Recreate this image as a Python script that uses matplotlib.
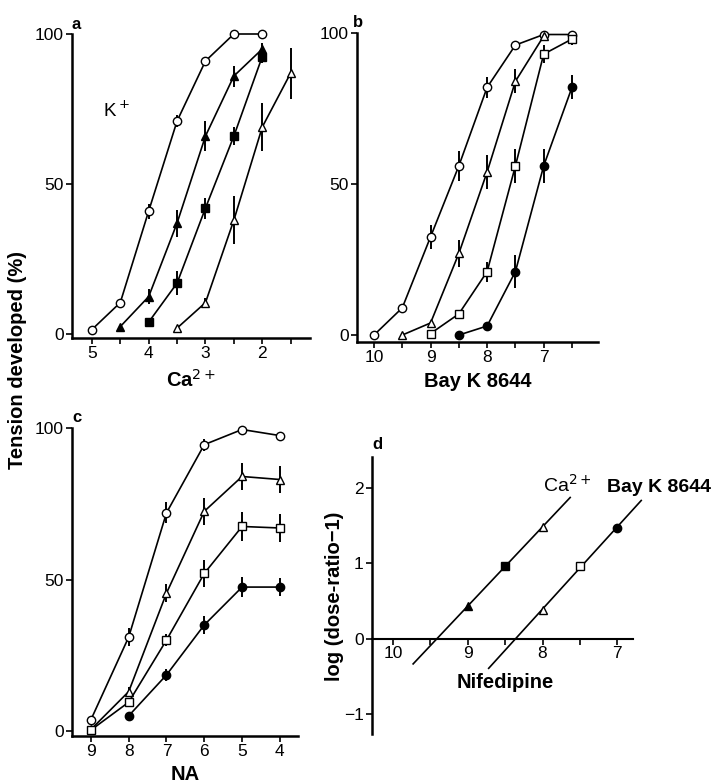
import matplotlib
matplotlib.use("Agg")
import matplotlib.pyplot as plt
import numpy as np

plt.rcParams['font.family'] = ['Liberation Sans', 'DejaVu Sans']

# ---------------- data ----------------
# panel a: -log[Ca2+] (K+ depolarised)
a_x_open_circle = [5, 4.5, 4, 3.5, 3, 2.5, 2]
a_open_circle = [1.5, 10.5, 41, 71, 91, 100, 100]
a_open_circle_err = [0, 0, 2.5, 2, 0, 0, 0]
a_x_filled_triangle = [4.5, 4, 3.5, 3, 2.5, 2]
a_filled_triangle = [2.5, 12.5, 37, 66, 86, 95]
a_filled_triangle_err = [0, 2.5, 4.5, 5, 3.5, 2]
a_x_filled_square = [4, 3.5, 3, 2.5, 2]
a_filled_square = [4, 17, 42, 66, 92.5]
a_filled_square_err = [0, 4, 3.5, 3, 2]
a_x_open_triangle = [3.5, 3, 2.5, 2, 1.5]
a_open_triangle = [2, 10.5, 38, 69, 87]
a_open_triangle_err = [0, 1.5, 8, 8, 8.5]

# panel b: -log[Bay K 8644]
b_x_open_circle = [10, 9.5, 9, 8.5, 8, 7.5, 7, 6.5]
b_open_circle = [0, 9, 32.5, 56, 82, 96, 99.5, 99.5]
b_open_circle_err = [0, 0, 4, 5, 3.5, 1.5, 0, 0]
b_x_open_triangle = [9.5, 9, 8.5, 8, 7.5, 7]
b_open_triangle = [0, 4, 27, 54, 84, 99]
b_open_triangle_err = [0, 0, 4.5, 5.5, 4, 0]
b_x_open_square = [9, 8.5, 8, 7.5, 7, 6.5]
b_open_square = [0.5, 7, 21, 56, 93, 98]
b_open_square_err = [0, 0, 3.3, 5.5, 3, 2]
b_x_filled_circle = [8.5, 8, 7.5, 7, 6.5]
b_filled_circle = [0, 3, 21, 56, 82]
b_filled_circle_err = [0, 0, 5.5, 5.5, 4]

# panel c: -log[NA]
c_x = [9, 8, 7, 6, 5, 4]
c_open_circle = [3.7, 31, 72, 94.5, 99.5, 97.5]
c_open_circle_err = [0, 3, 3.5, 2, 0, 0]
c_open_triangle = [0.5, 13, 45.5, 72.5, 84, 83]
c_open_triangle_err = [0, 1.5, 3, 4.5, 4.5, 4.5]
c_open_square = [0.3, 9.5, 30, 52, 67.5, 67]
c_open_square_err = [0, 1, 2, 4.5, 4.7, 4.7]
c_x_filled_circle = [8, 7, 6, 5, 4]
c_filled_circle = [5, 18.5, 35, 47.5, 47.5]
c_filled_circle_err = [0, 2, 3, 3.3, 3]

# panel d: Schild plots vs nifedipine
d_ca_x = [9, 8.5, 8]
d_ca_y = [0.43, 0.97, 1.48]
d_ca_line_x = [9.73, 7.63]
d_bay_x = [8, 7.5, 7]
d_bay_y = [0.38, 0.97, 1.47]
d_bay_line_x = [8.72, 6.68]

# ---------------- styling helpers ----------------
W, H = 715, 783
fig = plt.figure(figsize=(W / 100, H / 100), dpi=100)

def ax_px(l, r, top, bot):
    return fig.add_axes([l / W, 1 - bot / H, (r - l) / W, (bot - top) / H])

TICK_FS = 12.5
LABEL_FS = 14.5
LW = 1.2
MS = 6.0

def style_ax(ax):
    for s in ['top', 'right']:
        ax.spines[s].set_visible(False)
    ax.spines['left'].set_linewidth(1.8)
    ax.spines['bottom'].set_linewidth(1.8)
    ax.tick_params(axis='both', which='both', direction='out', length=4,
                   width=1.2, labelsize=TICK_FS, pad=2)

def xlabel_px(ax, text, baseline_px, bottom_px, height_px):
    yfrac = (bottom_px - baseline_px) / height_px
    ax.text(0.5, yfrac, text, transform=ax.transAxes, ha='center', va='baseline',
            fontsize=LABEL_FS, fontweight='bold', clip_on=False)

MK = {
    'open_circle': dict(marker='o', mfc='white', mec='black'),
    'filled_circle': dict(marker='o', mfc='black', mec='black'),
    'open_triangle': dict(marker='^', mfc='white', mec='black'),
    'filled_triangle': dict(marker='^', mfc='black', mec='black'),
    'open_square': dict(marker='s', mfc='white', mec='black'),
    'filled_square': dict(marker='s', mfc='black', mec='black'),
}

def series(ax, x, y, err, kind):
    x = np.asarray(x, float); y = np.asarray(y, float); e = np.asarray(err, float)
    m = e > 0
    ax.vlines(x[m], y[m] - e[m], y[m] + e[m], color='black', lw=1.4, zorder=2)
    ax.plot(x, y, color='black', lw=LW, ms=MS, mew=1.0, zorder=3,
            clip_on=False, **MK[kind])

# ---------------- panel a ----------------
axa = ax_px(72, 310, 34, 338)
style_ax(axa)
series(axa, a_x_open_circle, a_open_circle, a_open_circle_err, 'open_circle')
series(axa, a_x_filled_triangle, a_filled_triangle, a_filled_triangle_err, 'filled_triangle')
series(axa, a_x_filled_square, a_filled_square, a_filled_square_err, 'filled_square')
series(axa, a_x_open_triangle, a_open_triangle, a_open_triangle_err, 'open_triangle')
axa.set_xlim(5.35, 1.16)
axa.set_ylim(-1.3, 100)
axa.set_xticks([5, 4, 3, 2])
axa.set_xticks([4.5, 3.5, 2.5, 1.5], minor=True)
axa.set_yticks([0, 50, 100])
xlabel_px(axa, 'Ca$^{2+}$', 387, 338, 304)
axa.text(0.13, 0.727, 'K$^+$', transform=axa.transAxes, fontsize=13.5, va='baseline')
axa.text(0.0, 1.015, 'a', transform=axa.transAxes, fontsize=12, fontweight='bold')

# ---------------- panel b ----------------
axb = ax_px(357, 598, 33, 342)
style_ax(axb)
series(axb, b_x_open_circle, b_open_circle, b_open_circle_err, 'open_circle')
series(axb, b_x_open_triangle, b_open_triangle, b_open_triangle_err, 'open_triangle')
series(axb, b_x_open_square, b_open_square, b_open_square_err, 'open_square')
series(axb, b_x_filled_circle, b_filled_circle, b_filled_circle_err, 'filled_circle')
axb.set_xlim(10.3, 6.04)
axb.set_ylim(-2.3, 100)
axb.set_xticks([10, 9, 8, 7])
axb.set_xticks([9.5, 8.5, 7.5, 6.5], minor=True)
axb.set_yticks([0, 50, 100])
xlabel_px(axb, 'Bay K 8644', 387, 342, 309)
axb.text(-0.015, 1.02, 'b', transform=axb.transAxes, fontsize=12, fontweight='bold')

# ---------------- panel c ----------------
axc = ax_px(72, 298, 428, 736)
style_ax(axc)
series(axc, c_x, c_open_circle, c_open_circle_err, 'open_circle')
series(axc, c_x, c_open_triangle, c_open_triangle_err, 'open_triangle')
series(axc, c_x, c_open_square, c_open_square_err, 'open_square')
series(axc, c_x_filled_circle, c_filled_circle, c_filled_circle_err, 'filled_circle')
axc.set_xlim(9.5, 3.52)
axc.set_ylim(-1.65, 100)
axc.set_xticks([9, 8, 7, 6, 5, 4])
axc.set_yticks([0, 50, 100])
xlabel_px(axc, 'NA', 780, 736, 308)
axc.text(0.0, 1.02, 'c', transform=axc.transAxes, fontsize=12, fontweight='bold')

# ---------------- panel d ----------------
axd = ax_px(372, 633, 457, 734)
style_ax(axd)
axd.spines['bottom'].set_position(('data', 0))
axd.spines['bottom'].set_linewidth(1.5)
axd.set_xlim(10.28, 6.79)
axd.set_ylim(-1.26, 2.41)
axd.set_xticks([10, 9, 8, 7])
axd.set_xticks([9.5, 8.5, 7.5], minor=True)
axd.set_yticks([-1, 0, 1, 2])
axd.set_yticklabels(['\u22121', '0', '1', '2'])
axd.tick_params(axis='x', pad=1)

for xs, ys, lx in [(d_ca_x, d_ca_y, d_ca_line_x), (d_bay_x, d_bay_y, d_bay_line_x)]:
    k, b0 = np.polyfit(xs, ys, 1)
    lx = np.asarray(lx)
    axd.plot(lx, k * lx + b0, color='black', lw=LW, zorder=2, clip_on=False)
for xx, yy, kind in zip(d_ca_x, d_ca_y, ['filled_triangle', 'filled_square', 'open_triangle']):
    axd.plot([xx], [yy], ls='none', ms=MS, mew=1.0, zorder=3, **MK[kind])
for xx, yy, kind in zip(d_bay_x, d_bay_y, ['open_triangle', 'open_square', 'filled_circle']):
    axd.plot([xx], [yy], ls='none', ms=MS, mew=1.0, zorder=3, **MK[kind])

axd.text(7.67, 1.95, 'Ca$^{2+}$', fontsize=14, ha='center', va='baseline')
axd.text(7.14, 1.95, 'Bay K 8644', fontsize=14, fontweight='bold', ha='left',
         va='baseline', clip_on=False)
axd.text(8.5, -0.58, 'Nifedipine', fontsize=14.5, fontweight='bold', ha='center',
         va='center')
axd.text(0.0, 1.03, 'd', transform=axd.transAxes, fontsize=12, fontweight='bold')

# y labels
fig.text(335 / W, 1 - 596 / H, 'log (dose-ratio\u22121)', rotation=90, fontsize=LABEL_FS,
         fontweight='bold', ha='center', va='center')
fig.text(18 / W, 1 - 360 / H, 'Tension developed (%)', rotation=90, fontsize=LABEL_FS,
         fontweight='bold', ha='center', va='center')

fig.savefig('out.png', dpi=100)
